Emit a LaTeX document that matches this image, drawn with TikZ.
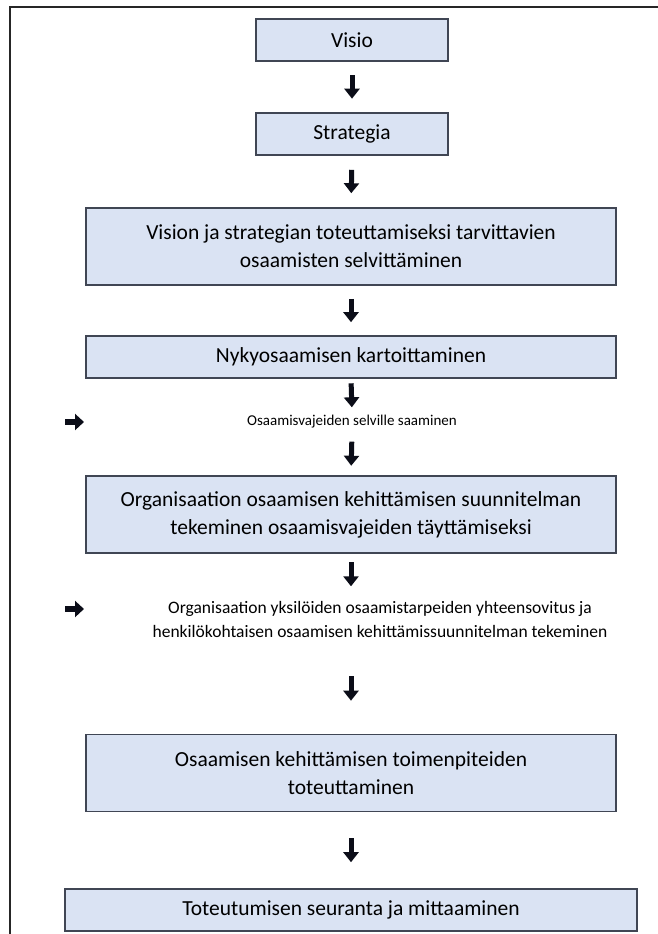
\documentclass[tikz,border=0pt]{standalone}
\usepackage{fontspec}
\setmainfont{Carlito}
\usetikzlibrary{arrows.meta}
\definecolor{boxfill}{HTML}{DAE3F3}
\definecolor{boxline}{HTML}{404654}
\definecolor{arrowink}{HTML}{0B0D18}

\begin{document}
\begin{tikzpicture}[x=1pt, y=1pt,
  stagebox/.style={draw=boxline, fill=boxfill, line width=1.6pt, minimum height=42pt,
                   inner sep=0pt, font=\fontsize{21.5}{28}\selectfont},
  tallbox/.style={stagebox, minimum height=77pt, align=center},
  note/.style={inner sep=0pt, align=center},
  down/.style={draw=arrowink, line width=5pt, -{Triangle[width=15pt,length=10pt]},
               shorten <=#1, shorten >=#1},
  aside/.style={draw=arrowink, line width=6.5pt, -{Triangle[width=16pt,length=9pt]}}]
  \useasboundingbox (0,0) rectangle (658,-934);
  \draw[line width=2pt, black!85] (10,-934) -- (10,-7) -- (658,-7);

  \path node (visio)    at (352,-40)    [stagebox, minimum width=192pt] {Visio}
        node (strategy) at (352,-134)   [stagebox, minimum width=192pt] {Strategia}
        node (needs)    at (351,-246.5) [tallbox, minimum width=530pt]
             {Vision ja strategian toteuttamiseksi tarvittavien\\osaamisten selvittäminen}
        node (mapping)  at (351,-357)   [stagebox, minimum width=530pt] {Nykyosaamisen kartoittaminen}
        node (gaps)     at (352,-422)   [note, minimum height=20pt, font=\fontsize{15}{18}\selectfont]
             {Osaamisvajeiden selville saaminen}
        node (plan)     at (351,-514.5) [tallbox, minimum width=530pt]
             {Organisaation osaamisen kehittämisen suunnitelman\\tekeminen osaamisvajeiden täyttämiseksi}
        node (personal) at (380,-619)   [note, minimum height=48pt, font=\fontsize{17.5}{24}\selectfont]
             {Organisaation yksilöiden osaamistarpeiden yhteensovitus ja\\henkilökohtaisen osaamisen kehittämissuunnitelman tekeminen}
        node (actions)  at (351,-773)   [tallbox, minimum width=530pt]
             {Osaamisen kehittämisen toimenpiteiden\\toteuttaminen}
        node (follow)   at (351,-910)   [stagebox, minimum width=572pt] {Toteutumisen seuranta ja mittaaminen};

  \coordinate (gapsA)  at (65,-422);
  \coordinate (gapsB)  at (84,-422);
  \coordinate (persA)  at (65,-609);
  \coordinate (persB)  at (84,-609);

  \draw[down=13.5pt] (visio.south) -- (strategy.north);
  \draw[down=14pt]   (strategy.south) -- (needs.north);
  \draw[down=13pt]   (needs.south) -- (mapping.north);
  \draw[down=4.5pt]  (mapping.south) -- (gaps.north);
  \draw[down=9.5pt]  (gaps.south) -- (plan.north);
  \draw[down=8.5pt]  (plan.south) -- (plan.south |- personal.north);
  \draw[down=33pt]   (plan.south |- personal.south) -- (actions.north);
  \draw[down=26pt]   (actions.south) -- (follow.north);
  \draw[aside] (gapsA) -- (gapsB);
  \draw[aside] (persA) -- (persB);
\end{tikzpicture}
\end{document}
